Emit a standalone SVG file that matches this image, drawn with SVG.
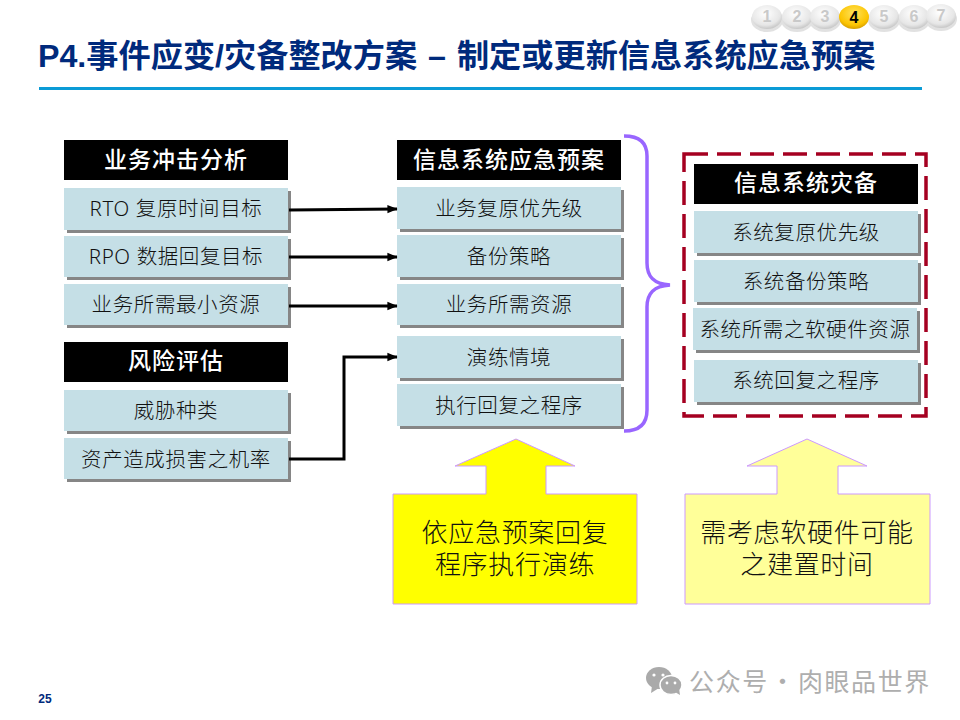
<svg xmlns="http://www.w3.org/2000/svg" width="960" height="720" viewBox="0 0 960 720">
<style>
text{font-family:"Liberation Sans","Noto Sans CJK SC",sans-serif;text-anchor:middle}
.h{fill:#000}
.ht{fill:#fff;font-size:23px;font-weight:500;font-family:"Noto Sans CJK SC",sans-serif;letter-spacing:1px}
.b{fill:#c5dfe6}
.s{fill:#868686}
.t{fill:#111;font-size:20.5px;font-weight:300;font-family:"Noto Sans CJK SC",sans-serif;letter-spacing:.6px}
.t2{fill:#111;font-size:26px;font-weight:300;font-family:"Noto Sans CJK SC",sans-serif;letter-spacing:.7px}
.c{fill:none;stroke:#000;stroke-width:3}
.p{fill:#c9c9c9;font:bold 16px "Liberation Sans",sans-serif}
</style>
<defs>
<marker id="a" markerWidth="3.4" markerHeight="3.4" refX="3.2" refY="1.7" orient="auto"><path d="M0 0.3L3.4 1.7L0 3.1z" fill="#000"/></marker>
<radialGradient id="g" cx=".45" cy=".35" r=".7"><stop offset="0" stop-color="#fff"/><stop offset=".7" stop-color="#e6e6e6"/><stop offset="1" stop-color="#bdbdbd"/></radialGradient>
<radialGradient id="y" cx=".5" cy=".35" r=".7"><stop offset="0" stop-color="#ffe35c"/><stop offset=".7" stop-color="#fcc400"/><stop offset="1" stop-color="#c99200"/></radialGradient>
</defs>
<rect width="960" height="720" fill="#fff"/>
<g id="pager">
<g fill="#aaa" opacity=".35"><ellipse cx="767" cy="20" rx="16" ry="12"/><ellipse cx="797" cy="20" rx="16" ry="12"/><ellipse cx="825" cy="20" rx="16" ry="12"/><ellipse cx="884" cy="20" rx="16" ry="12"/><ellipse cx="914" cy="20" rx="16" ry="12"/><ellipse cx="941" cy="19" rx="16" ry="12"/></g>
<ellipse cx="767" cy="17" rx="15" ry="12" fill="url(#g)"/><text class="p" x="767" y="22">1</text>
<ellipse cx="797" cy="17" rx="15" ry="12" fill="url(#g)"/><text class="p" x="797" y="22">2</text>
<ellipse cx="825" cy="17" rx="15" ry="12" fill="url(#g)"/><text class="p" x="825" y="22">3</text>
<ellipse cx="854" cy="17" rx="15" ry="12" fill="url(#y)"/><text x="854" y="23" style="font:bold 16px 'Liberation Sans',sans-serif" fill="#000">4</text>
<ellipse cx="884" cy="17" rx="15" ry="12" fill="url(#g)"/><text class="p" x="884" y="22">5</text>
<ellipse cx="914" cy="17" rx="15" ry="12" fill="url(#g)"/><text class="p" x="914" y="22">6</text>
<ellipse cx="941" cy="16" rx="15" ry="12" fill="url(#g)"/><text class="p" x="941" y="21">7</text>
</g>
<g id="title">
<text x="38" y="67" style="text-anchor:start;font-family:'Liberation Sans','Noto Sans CJK SC',sans-serif;font-weight:bold;font-size:32.2px;word-spacing:2px" fill="#002a7c">P4.事件应变/灾备整改方案 – 制定或更新信息系统应急预案</text>
<rect x="39" y="87" width="883" height="3" fill="#0a9bd6"/>
</g>
<g id="n-bia"><rect class="h" x="64" y="140" width="224" height="40"/><text class="ht" x="176" y="168">业务冲击分析</text></g>
<g id="n-rto"><rect class="s" x="67" y="191" width="224" height="42"/><rect class="b" x="64" y="188" width="224" height="42"/><text class="t" x="176" y="216"><tspan style="font-family:'Noto Sans',sans-serif">RTO </tspan>复原时间目标</text></g>
<g id="n-rpo"><rect class="s" x="67" y="239" width="224" height="41"/><rect class="b" x="64" y="236" width="224" height="41"/><text class="t" x="176" y="264"><tspan style="font-family:'Noto Sans',sans-serif">RPO </tspan>数据回复目标</text></g>
<g id="n-min"><rect class="s" x="67" y="287" width="224" height="41"/><rect class="b" x="64" y="284" width="224" height="41"/><text class="t" x="176" y="312">业务所需最小资源</text></g>
<g id="n-risk"><rect class="h" x="64" y="342" width="224" height="40"/><text class="ht" x="176" y="369">风险评估</text></g>
<g id="n-threat"><rect class="s" x="67" y="393" width="224" height="41"/><rect class="b" x="64" y="390" width="224" height="41"/><text class="t" x="176" y="418">威胁种类</text></g>
<g id="n-prob"><rect class="s" x="67" y="441" width="224" height="41"/><rect class="b" x="64" y="438" width="224" height="41"/><text class="t" x="176" y="467">资产造成损害之机率</text></g>
<g id="n-plan"><rect class="h" x="397" y="140" width="224" height="40"/><text class="ht" x="509" y="168">信息系统应急预案</text></g>
<g id="n-m1"><rect class="s" x="400" y="190" width="224" height="42"/><rect class="b" x="397" y="187" width="224" height="42"/><text class="t" x="509" y="216">业务复原优先级</text></g>
<g id="n-m2"><rect class="s" x="400" y="238" width="224" height="42"/><rect class="b" x="397" y="235" width="224" height="42"/><text class="t" x="509" y="264">备份策略</text></g>
<g id="n-m3"><rect class="s" x="400" y="287" width="224" height="41"/><rect class="b" x="397" y="284" width="224" height="41"/><text class="t" x="509" y="312">业务所需资源</text></g>
<g id="n-m4"><rect class="s" x="400" y="339" width="224" height="42"/><rect class="b" x="397" y="336" width="224" height="42"/><text class="t" x="509" y="365">演练情境</text></g>
<g id="n-m5"><rect class="s" x="400" y="387" width="224" height="42"/><rect class="b" x="397" y="384" width="224" height="42"/><text class="t" x="509" y="413">执行回复之程序</text></g>
<g id="brace"><path d="M624 136C640 136 647 143 647 156V263C647 276 653 284 670 285C653 286 647 294 647 307V410C647 423 640 431 624 431" fill="none" stroke="#9966ff" stroke-width="3.5"/></g>
<g id="n-dr-frame"><rect x="684" y="154" width="242" height="262" fill="none" stroke="#a50021" stroke-width="3.5" stroke-dasharray="24 9"/></g>
<g id="n-dr"><rect class="h" x="694" y="164" width="224" height="40"/><text class="ht" x="806" y="191">信息系统灾备</text></g>
<g id="n-r1"><rect class="s" x="697" y="214" width="224" height="42"/><rect class="b" x="694" y="211" width="224" height="42"/><text class="t" x="806" y="240">系统复原优先级</text></g>
<g id="n-r2"><rect class="s" x="697" y="263" width="224" height="42"/><rect class="b" x="694" y="260" width="224" height="42"/><text class="t" x="806" y="289">系统备份策略</text></g>
<g id="n-r3"><rect class="s" x="696" y="311" width="224" height="42"/><rect class="b" x="693" y="308" width="224" height="42"/><text class="t" x="805" y="337">系统所需之软硬件资源</text></g>
<g id="n-r4"><rect class="s" x="697" y="363" width="224" height="42"/><rect class="b" x="694" y="360" width="224" height="42"/><text class="t" x="806" y="388">系统回复之程序</text></g>
<g id="connectors">
<path class="c" d="M289 210L397 209" marker-end="url(#a)"/>
<path class="c" d="M289 257L397 257" marker-end="url(#a)"/>
<path class="c" d="M289 306L397 306" marker-end="url(#a)"/>
<path class="c" d="M289 459H344V357H397" marker-end="url(#a)"/>
</g>
<g id="n-note1"><path d="M516 439L575 466H546V494H637V604H393V494H486V466H455Z" fill="#ffff00" stroke="#cc99ff" stroke-width="1"/>
<text class="t2" y="542"><tspan x="515">依应急预案回复</tspan><tspan x="515" dy="32">程序执行演练</tspan></text></g>
<g id="n-note2"><path d="M807 439L867 466H838V494H930V604H685V494H777V466H747Z" fill="#ffff99" stroke="#cc99ff" stroke-width="1"/>
<text class="t2" y="542"><tspan x="807">需考虑软硬件可能</tspan><tspan x="807" dy="32">之建置时间</tspan></text></g>
<g id="footer">
<text x="45" y="703" style="font:bold 12px 'Liberation Sans',sans-serif" fill="#002a7c">25</text>
<g fill="#aaa"><ellipse cx="659" cy="678" rx="13" ry="11"/><path d="M652 686L651 693L659 688z"/><ellipse cx="671" cy="685" rx="11" ry="9.5" stroke="#fff" stroke-width="1.5"/><path d="M675 692L680 695L679 688z"/></g>
<g fill="#fff"><circle cx="654" cy="675" r="1.6"/><circle cx="663" cy="675" r="1.6"/><circle cx="667" cy="683" r="1.4"/><circle cx="675" cy="683" r="1.4"/></g>
<text x="810" y="691" style="font-family:'Noto Sans CJK SC',sans-serif;font-size:25px;letter-spacing:1.6px;word-spacing:-6px" fill="#aeaeae">公众号 · 肉眼品世界</text>
</g>
</svg>
